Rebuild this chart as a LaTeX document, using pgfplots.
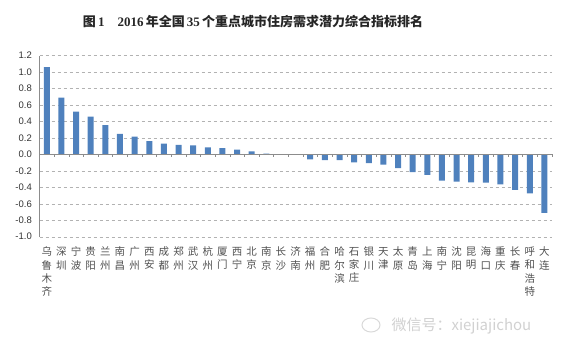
\documentclass[border=0pt]{standalone}
\usepackage{fontspec}
\usepackage{pgfplots}
\pgfplotsset{compat=1.18}
\setmainfont{Liberation Serif}
\newfontfamily\cjk{Noto Sans CJK SC}
\newfontfamily\tickfont{Liberation Sans}
\definecolor{barblue}{HTML}{4F81BD}
\definecolor{labgray}{HTML}{505050}
\begin{document}
\begin{tikzpicture}
\path[use as bounding box] (0,0) rectangle (583pt,-353pt);
\node[font=\fontsize{13}{15}\selectfont, text=black!85, anchor=center] at (253pt,-21.5pt)
  {{\cjk\bfseries 图}\,\textbf{1}\quad\textbf{2016}\,{\cjk\bfseries 年全国}\,\textbf{35}\,{\cjk\bfseries 个重点城市住房需求潜力综合指标排名}};
\begin{axis}[
  at={(39.5pt,-236.7pt)}, anchor=south west,
  width=512.2pt, height=181.1pt, scale only axis,
  xmin=0.5, xmax=35.5, ymin=-1.0, ymax=1.2,
  axis x line=bottom, axis y line=left,
  x axis line style={draw=none},
  y axis line style={-, draw=black!45},
  xtick={1,...,35},
  major x tick style={draw=none},
  major y tick style={draw=none},
  ytick={-1.0,-0.8,...,1.21},
  ymajorgrids,
  grid style={dashed, black!30},
  /pgf/number format/assume math mode=true,
  yticklabel={\pgfmathprintnumber[fixed, fixed zerofill, precision=1]{\tick}},
  yticklabel style={font=\tickfont\fontsize{9.5}{11}\selectfont, text=black!80, xshift=-2pt},
  xticklabel style={font=\cjk\fontsize{10.5}{13.3}\selectfont, text=labgray, align=center, anchor=north, inner sep=0pt, yshift=-8pt},
  xticklabels={{乌\\鲁\\木\\齐},{深\\圳},{宁\\波},{贵\\阳},{兰\\州},{南\\昌},{广\\州},{西\\安},{成\\都},{郑\\州},{武\\汉},{杭\\州},{厦\\门},{西\\宁},{北\\京},{南\\京},{长\\沙},{济\\南},{福\\州},{合\\肥},{哈\\尔\\滨},{石\\家\\庄},{银\\川},{天\\津},{太\\原},{青\\岛},{上\\海},{南\\宁},{沈\\阳},{昆\\明},{海\\口},{重\\庆},{长\\春},{呼\\和\\浩\\特},{大\\连}},
  clip=false,
]
\addplot[ybar, bar width=6pt, fill=barblue, draw=none] coordinates {
(1,1.06) (2,0.69) (3,0.52) (4,0.46) (5,0.356) (6,0.25) (7,0.215) (8,0.16) (9,0.13) (10,0.117)
(11,0.11) (12,0.085) (13,0.077) (14,0.057) (15,0.036) (16,0.008) (17,-0.003) (18,-0.005)
(19,-0.06) (20,-0.069) (21,-0.069) (22,-0.097) (23,-0.105) (24,-0.125) (25,-0.166)
(26,-0.215) (27,-0.25) (28,-0.32) (29,-0.33) (30,-0.34) (31,-0.344) (32,-0.364)
(33,-0.43) (34,-0.474) (35,-0.71)
};
\draw[black!45] (axis cs:0.5,0) -- (axis cs:35.5,0);
\pgfplotsinvokeforeach{0.5,1.5,...,35.5}{
  \draw[black!45] (axis cs:#1,0) -- ([yshift=-3pt]axis cs:#1,0);
}
\end{axis}
\node[font=\cjk\fontsize{15}{17}\selectfont, text=black!18, anchor=west] at (388pt,-326pt) {微信号：xiejiajichou};
\draw[black!15, line width=1pt] (371pt,-325pt) ellipse (9pt and 7pt);
\end{tikzpicture}
\end{document}
